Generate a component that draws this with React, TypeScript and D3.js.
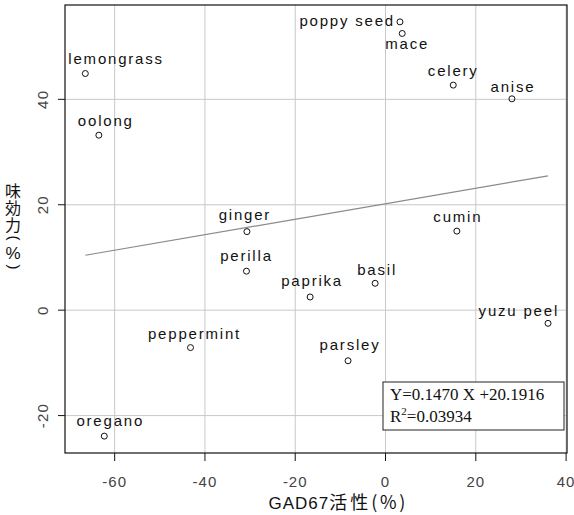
import React from 'react';
import * as d3 from 'd3';

// spice names, GAD67 activity (%) and taste effect (%)
const names = ['lemongrass', 'oolong', 'ginger', 'poppy seed', 'mace', 'celery', 'anise', 'cumin',
  'perilla', 'peppermint', 'oregano', 'paprika', 'basil', 'yuzu peel', 'parsley'];
const gad67 = [-66.5, -63.5, -30.7, 3.2, 3.7, 15.0, 28.0, 15.8, -30.8, -43.2, -62.3, -16.7, -2.3, 36.0, -8.3];
const taste = [44.9, 33.2, 14.9, 54.7, 52.5, 42.7, 40.1, 15.0, 7.4, -7.1, -23.9, 2.5, 5.1, -2.5, -9.6];

const xTicks = [-60, -40, -20, 0, 20, 40];
const yTicks = [-20, 0, 20, 40];

const slope = 0.147;
const intercept = 20.1916;
const eqLabel = 'Y=0.1470 X +20.1916';
const r2Value = '=0.03934';

const xTitleLatin = 'GAD67';
const xTitleCjk = '活性';
const xTitleUnit = '(％)';
const yTitleKanji = ['味', '効', '力'];

// where each label sits relative to its point
const labelPlace: Record<string, [string, number, number]> = {
  'lemongrass': ['start', -17, -10],
  'oolong': ['start', -21, -9],
  'ginger': ['middle', -2, -12],
  'poppy seed': ['end', -5, 4],
  'mace': ['middle', 5, 16],
  'celery': ['middle', 0, -9],
  'anise': ['middle', 1, -7],
  'cumin': ['middle', 1, -9],
  'perilla': ['middle', 0, -10],
  'peppermint': ['middle', 4, -9],
  'oregano': ['middle', 6, -10],
  'paprika': ['middle', 2, -11],
  'basil': ['middle', 2, -8],
  'yuzu peel': ['end', 11, -7],
  'parsley': ['middle', 2, -11],
};

const W = 574;
const H = 515;
const left = 65, right = 567, top = 5, bottom = 453;

export default function App() {
  const x = d3.scaleLinear().domain([-71, 40.2]).range([left, right]);
  const y = d3.scaleLinear().domain([-27.1, 57.9]).range([bottom, top]);

  const xmin = d3.min(gad67) as number;
  const xmax = d3.max(gad67) as number;
  const line = d3.line<number>().x(d => x(d)).y(d => y(slope * d + intercept));

  const labelFont = '"Liberation Sans", Arial, sans-serif';
  const cjkFont = '"Noto Sans CJK JP", sans-serif';
  // vertical y title, glyph centres
  const yc = 13;
  const kanjiY = [190.5, 207.5, 224.5];

  return (
    <svg width={W} height={H} style={{ position: 'absolute', left: 0, top: 0, background: '#fff' }}>
      <rect x={0} y={0} width={W} height={H} fill="#fff" />
      {/* grid */}
      {xTicks.map(t => (
        <line key={'gx' + t} x1={x(t)} x2={x(t)} y1={top} y2={bottom} stroke="#c8c8c8" strokeWidth={1} />
      ))}
      {yTicks.map(t => (
        <line key={'gy' + t} x1={left} x2={right} y1={y(t)} y2={y(t)} stroke="#c8c8c8" strokeWidth={1} />
      ))}

      {/* regression line */}
      <path d={line([xmin, xmax]) || ''} fill="none" stroke="#8a8a8a" strokeWidth={1.2} />

      {/* points */}
      {names.map((n, i) => (
        <circle key={n} cx={x(gad67[i])} cy={y(taste[i])} r={3} fill="none" stroke="#111" strokeWidth={1} />
      ))}
      {names.map((n, i) => {
        const [anchor, dx, dy] = labelPlace[n];
        return (
          <text key={'l' + n} x={x(gad67[i]) + dx} y={y(taste[i]) + dy} textAnchor={anchor as any}
            fontFamily={labelFont} fontSize={15} letterSpacing={1.8} fill="#111">{n}</text>
        );
      })}

      {/* frame */}
      <rect x={left} y={top} width={right - left} height={bottom - top} fill="none" stroke="#111" strokeWidth={1.2} />

      {/* x axis */}
      {xTicks.map(t => (
        <g key={'xt' + t}>
          <line x1={x(t)} x2={x(t)} y1={bottom} y2={bottom + 8} stroke="#111" />
          <text x={x(t)} y={487} textAnchor="middle" fontFamily={labelFont} fontSize={15}
            letterSpacing={1} fill="#444">{t}</text>
        </g>
      ))}
      {/* y axis */}
      {yTicks.map(t => (
        <g key={'yt' + t}>
          <line x1={left - 7} x2={left} y1={y(t)} y2={y(t)} stroke="#111" />
          <text transform={`translate(48,${y(t)}) rotate(-90)`} textAnchor="middle" fontFamily={labelFont}
            fontSize={15} letterSpacing={1.2} fill="#444">{t}</text>
        </g>
      ))}

      {/* axis titles */}
      <text x={338} y={509} textAnchor="middle" fontSize={17} fill="#111">
        <tspan fontFamily={labelFont} fontSize={17} letterSpacing={1}>{xTitleLatin}</tspan>
        <tspan fontFamily={cjkFont} fontSize={18} letterSpacing={3}>{xTitleCjk}</tspan>
        <tspan fontFamily={cjkFont} fontSize={18} letterSpacing={2}>{xTitleUnit}</tspan>
      </text>
      <text fontSize={16} fill="#111">
        {yTitleKanji.map((c, i) => (
          <tspan key={'yk' + i} x={yc - 8} y={kanjiY[i] + 6} fontFamily={cjkFont}>{c}</tspan>
        ))}
        <tspan x={yc - 4} y={235.5} fontFamily={labelFont} fontSize={15} rotate={90}>(</tspan>
        <tspan x={yc - 7.5} y={258.5} fontFamily={labelFont} fontSize={17}>%</tspan>
        <tspan x={yc - 4} y={264.5} fontFamily={labelFont} fontSize={15} rotate={90}>)</tspan>
      </text>

      {/* equation box */}
      <rect x={383} y={382} width={181} height={48} fill="#fff" stroke="#222" strokeWidth={1} />
      <text x={390} y={400} fontFamily={'"Liberation Serif", "Times New Roman", serif'} fontSize={17} fill="#111">
        {eqLabel}
      </text>
      <text x={390} y={422} fontFamily={'"Liberation Serif", "Times New Roman", serif'} fontSize={17} fill="#111">
        R<tspan fontSize={11} dy={-7}>2</tspan><tspan dy={7}>{r2Value}</tspan>
      </text>
    </svg>
  );
}
